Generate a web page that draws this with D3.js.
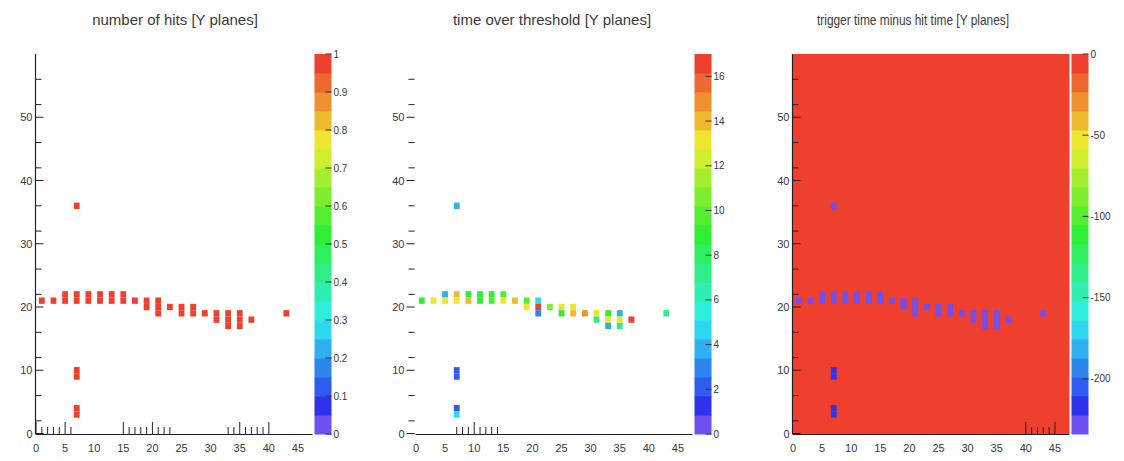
<!DOCTYPE html>
<html>
<head>
<meta charset="utf-8">
<title>Y planes</title>
<script src="https://d3js.org/d3.v7.min.js"></script>
<style>
  body { margin: 0; background: #fff; }
  text { font-family: "Liberation Sans", Arial, sans-serif; fill: #3a3a3a; }
</style>
</head>
<body>
<svg id="chart" width="1124" height="461"></svg>
<script>
// hit cells: plane (x) and strip (y)
var hitX = [1, 3, 5, 5, 7, 7, 7, 7, 7, 7, 7, 9, 9, 11, 11, 13, 13, 15, 15, 17, 19, 19,
            21, 21, 21, 23, 25, 25, 27, 27, 29, 31, 31, 33, 33, 33, 35, 35, 35, 37, 43]
var hitY = [21, 21, 22, 21, 22, 21, 36, 10, 9, 4, 3, 22, 21, 22, 21, 22, 21, 22, 21, 21, 21, 20,
            21, 20, 19, 20, 20, 19, 20, 19, 19, 19, 18, 19, 18, 17, 19, 18, 17, 18, 19]
var nHits = [1, 1, 1, 1, 1, 1, 1, 1, 1, 1, 1, 1, 1, 1, 1, 1, 1, 1, 1, 1, 1, 1,
             1, 1, 1, 1, 1, 1, 1, 1, 1, 1, 1, 1, 1, 1, 1, 1, 1, 1, 1]
var totValues = [9, 13, 4, 13, 14, 13, 4, 2, 2, 2, 5, 9, 14, 9, 9, 9, 10, 10, 13, 14, 10, 13,
                 5, 17, 3, 11, 13, 9, 13, 14, 15, 13, 7, 9, 13, 4, 4, 13, 7, 17, 7]
var dtValues = [-228, -228, -228, -228, -228, -228, -228, -214, -214, -214, -214, -228, -228, -228, -228, -228, -228, -228, -228, -228, -228, -228,
                -228, -228, -228, -228, -228, -228, -228, -228, -228, -228, -228, -228, -228, -228, -228, -228, -228, -228, -228]

var xTickLabels = [0, 5, 10, 15, 20, 25, 30, 35, 40, 45]
var yTickLabels = [0, 10, 20, 30, 40, 50]
var yMinorTicks = [2, 6, 12, 16, 22, 26, 32, 36, 42, 46, 52, 56]
var hitTicks = [0, 0.1, 0.2, 0.3, 0.4, 0.5, 0.6, 0.7, 0.8, 0.9, 1]
var totTicks = [0, 2, 4, 6, 8, 10, 12, 14, 16]
var dtTicks = [0, -50, -100, -150, -200]
// x-axis tick marks that are drawn in the picture (per panel)
var xMarks1 = [0, 1, 2, 3, 4, 5, 6, 15, 16, 17, 18, 19, 20, 21, 22, 23, 33, 34, 35, 36, 37, 38, 39, 40]
var xMarks2 = [7, 8, 9, 10, 11, 12, 13, 14]
var xMarks3 = [40, 41, 42, 43, 44, 45]

var panels = [
  {title: "number of hits [Y planes]", titleX: 175, titleW: 0, left: 35.5, values: nHits, zmin: 0, zmax: 1,
   cbTicks: hitTicks, xMarks: xMarks1, yLine: true, yOut: false, fillEmpty: false},
  {title: "time over threshold [Y planes]", titleX: 552, titleW: 0, left: 415.5, values: totValues, zmin: 0, zmax: 17,
   cbTicks: totTicks, xMarks: xMarks2, yLine: false, yOut: true, fillEmpty: false},
  {title: "trigger time minus hit time [Y planes]", titleX: 913, titleW: 192, left: 792.5, values: dtValues, zmin: -234, zmax: 0,
   cbTicks: dtTicks, xMarks: xMarks3, yLine: true, yOut: false, fillEmpty: true}
]

var svg = d3.select("#chart")
var plotW = 277, plotTop = 54, plotBottom = 434
var nLevels = 20

// rainbow palette, violet-blue (low) to red (high), 20 contour levels
var hueScale = d3.scaleLinear().domain([0, nLevels - 1]).range([252, 5])
function levelColor(k) {
  return d3.hsl(hueScale(k), 0.85, k === 0 ? 0.63 : 0.56).toString()
}
function zColor(v, zmin, zmax) {
  var k = Math.floor((v - zmin) / (zmax - zmin) * nLevels)
  k = Math.max(0, Math.min(nLevels - 1, k))
  return levelColor(k)
}

panels.forEach(function(p) {
  var g = svg.append("g")
  var x = d3.scaleLinear().domain([0, 47.5]).range([p.left + 0.5, p.left + plotW])
  var y = d3.scaleLinear().domain([0, 60]).range([plotBottom - 0.5, plotTop])

  // title
  var t = g.append("text")
    .attr("x", p.titleX).attr("y", 25)
    .attr("text-anchor", "middle")
    .style("font-size", "15px")
    .text(p.title)
  if (p.titleW) t.attr("textLength", p.titleW).attr("lengthAdjust", "spacingAndGlyphs")

  // empty bins drawn at zero
  if (p.fillEmpty) {
    g.append("rect")
      .attr("x", p.left).attr("y", plotTop)
      .attr("width", plotW).attr("height", plotBottom - plotTop)
      .attr("fill", zColor(0, p.zmin, p.zmax))
  }

  // cells
  g.selectAll("rect.cell")
    .data(p.values)
    .enter()
    .append("rect")
      .attr("class", "cell")
      .attr("x", (d, i) => x(hitX[i] - 0.5))
      .attr("width", (d, i) => x(hitX[i] + 0.5) - x(hitX[i] - 0.5))
      .attr("y", (d, i) => y(hitY[i] + 0.5))
      .attr("height", (d, i) => y(hitY[i] - 0.5) - y(hitY[i] + 0.5))
      .attr("fill", d => zColor(d, p.zmin, p.zmax))

  // y axis
  if (p.yLine) {
    g.append("line")
      .attr("x1", p.left).attr("x2", p.left)
      .attr("y1", plotTop).attr("y2", plotBottom)
      .attr("stroke", "#222").attr("stroke-width", 1.2)
  }
  var dir = p.yOut ? -1 : 1
  var tickX0 = p.yOut ? p.left - 1 : p.left
  g.selectAll("line.ymaj")
    .data(yTickLabels)
    .enter()
    .append("line")
      .attr("class", "ymaj")
      .attr("x1", tickX0).attr("x2", tickX0 + dir * 8)
      .attr("y1", d => y(d)).attr("y2", d => y(d))
      .attr("stroke", "#222")
  g.selectAll("line.ymin")
    .data(yMinorTicks)
    .enter()
    .append("line")
      .attr("class", "ymin")
      .attr("x1", tickX0).attr("x2", tickX0 + dir * 6)
      .attr("y1", d => y(d)).attr("y2", d => y(d))
      .attr("stroke", "#222")
  g.selectAll("text.ylab")
    .data(yTickLabels)
    .enter()
    .append("text")
      .attr("class", "ylab")
      .attr("x", p.yOut ? p.left - 11 : p.left - 3)
      .attr("y", d => y(d) + 4)
      .attr("text-anchor", "end")
      .style("font-size", "11px")
      .text(d => d)

  // x axis
  g.append("line")
    .attr("x1", p.left).attr("x2", p.left + plotW)
    .attr("y1", plotBottom + 0.5).attr("y2", plotBottom + 0.5)
    .attr("stroke", "#222").attr("stroke-width", 1.2)
  g.selectAll("line.xt")
    .data(p.xMarks)
    .enter()
    .append("line")
      .attr("class", "xt")
      .attr("x1", d => x(d)).attr("x2", d => x(d))
      .attr("y1", plotBottom).attr("y2", d => plotBottom - (d % 5 === 0 ? 12 : 7))
      .attr("stroke", "#222")
  g.selectAll("text.xlab")
    .data(xTickLabels)
    .enter()
    .append("text")
      .attr("class", "xlab")
      .attr("x", d => x(d))
      .attr("y", 452)
      .attr("text-anchor", "middle")
      .style("font-size", "11px")
      .text(d => d)

  // colour bar
  var cbX = p.left + plotW + 2, cbW = 17
  var cb = d3.scaleLinear().domain([p.zmin, p.zmax]).range([plotBottom, plotTop])
  var levels = d3.range(nLevels)
  g.selectAll("rect.band")
    .data(levels)
    .enter()
    .append("rect")
      .attr("class", "band")
      .attr("x", cbX).attr("width", cbW)
      .attr("y", k => cb(p.zmin + (k + 1) * (p.zmax - p.zmin) / nLevels))
      .attr("height", (plotBottom - plotTop) / nLevels + 0.5)
      .attr("fill", k => levelColor(k))
  g.selectAll("line.cbt")
    .data(p.cbTicks)
    .enter()
    .append("line")
      .attr("class", "cbt")
      .attr("x1", cbX + cbW - 6).attr("x2", cbX + cbW)
      .attr("y1", d => cb(d)).attr("y2", d => cb(d))
      .attr("stroke", "#333")
  g.selectAll("text.cbl")
    .data(p.cbTicks)
    .enter()
    .append("text")
      .attr("class", "cbl")
      .attr("x", cbX + cbW + 2)
      .attr("y", d => cb(d) + 3.5)
      .style("font-size", "10px")
      .text(d => d)
})
</script>
</body>
</html>
